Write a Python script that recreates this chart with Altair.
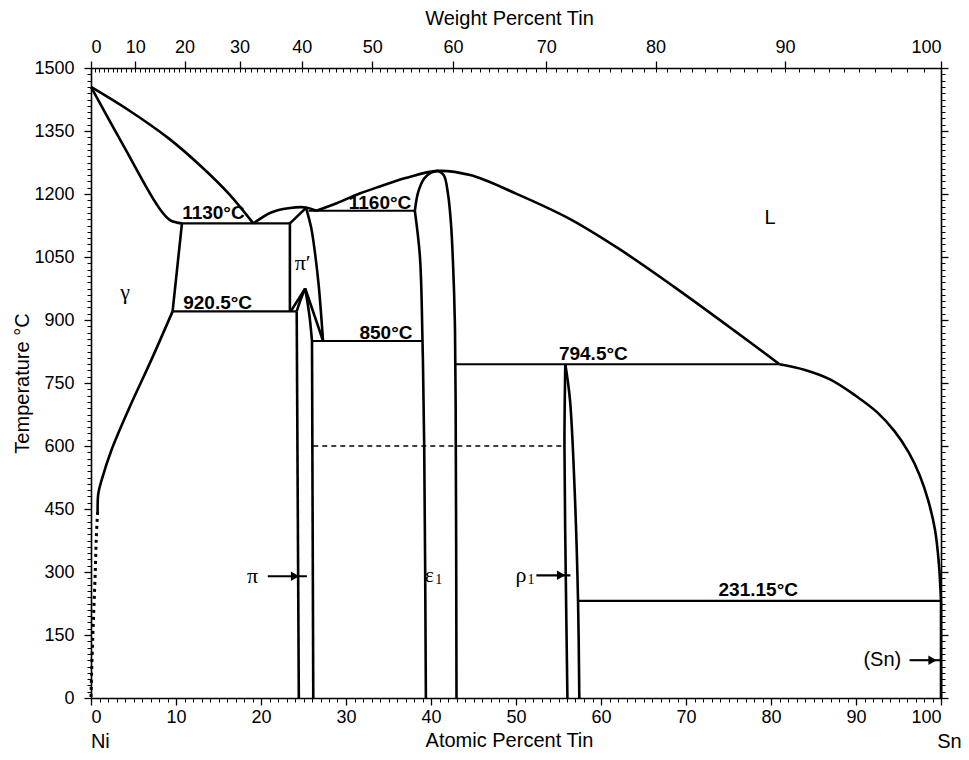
import altair as alt
import pandas as pd

# ---------------- values (x = atomic % Sn, T = deg C) ----------------
NI_LIQUIDUS = [(0, 1455), (4.4, 1400), (9.1, 1333), (13.0, 1265), (16.2, 1201), (19.1, 1130)]
NI_SOLIDUS = [(0, 1455), (3.9, 1312), (7.9, 1170), (9.3, 1138), (10.7, 1130)]
GAMMA_SOLVUS = [(9.6, 920.5), (7.1, 805), (4.4, 686), (2.4, 590), (1.25, 519), (0.86, 487), (0.78, 443)]
GAMMA_SOLVUS_DOTTED = [(0.78, 443), (0.62, 380), (0.5, 300), (0.35, 220), (0.2, 140), (0.07, 60), (0, 0)]
PI_P_LIQUIDUS = [(19.1, 1130), (21.2, 1156), (23.2, 1166), (25.3, 1168), (26.5, 1160)]
BIG_LIQUIDUS = [(26.5, 1160), (28.9, 1178), (31.6, 1201), (34.0, 1218), (37.0, 1238), (40.8, 1255),
                (44.6, 1245), (50.0, 1201), (56.2, 1142), (62.0, 1071), (68.6, 979), (75.6, 876), (81.0, 794.5)]
SN_LIQUIDUS = [(81.0, 794.5), (84.0, 781), (87.0, 758), (90.0, 719), (92.5, 680), (94.5, 636),
               (96.2, 585), (97.5, 530), (98.5, 470), (99.3, 400), (99.75, 320), (100, 231.15)]
PI_P_RIGHT = [(25.3, 1167), (25.9, 1120), (26.35, 1060), (26.8, 980), (27.3, 850)]
PI_P_INNER_R = [(25.2, 975), (26.3, 910), (27.3, 850)]
PI_TOP_L = [(25.2, 975), (24.6, 945), (24.2, 920.5)]
PI_TOP_R = [(25.2, 975), (25.7, 910), (26.0, 850)]
EPS_TOP_L = [(38.1, 1160), (38.5, 1205), (39.2, 1237), (40.0, 1251), (40.8, 1255)]
EPS_RIGHT = [(40.8, 1255), (41.5, 1245), (42.0, 1200), (42.35, 1130), (42.6, 1030), (42.8, 900), (42.9, 700), (43.0, 0)]
EPS_LEFT = [(38.1, 1160), (38.7, 1050), (39.0, 850), (39.2, 600), (39.4, 0)]
RHO_LEFT = [(55.8, 794.5), (55.7, 600), (55.85, 300), (56.05, 0)]
RHO_RIGHT = [(55.8, 794.5), (56.35, 710), (56.9, 495), (57.3, 231.15), (57.45, 0)]

GAMMA_SOLVUS_HI = [(10.7, 1130), (9.6, 920.5)]
PI_P_SOLIDUS_L = [(23.4, 1130), (25.3, 1167)]
PI_P_SOLVUS_L = [(23.4, 1130), (23.4, 920.5)]
PI_P_INNER_L = [(23.5, 920.5), (25.2, 975)]
PI_LEFT = [(24.2, 920.5), (24.45, 0)]
PI_RIGHT = [(26.0, 850), (26.15, 0)]
ISO_1130 = [(10.7, 1130), (23.4, 1130)]
ISO_1160 = [(25.6, 1160), (38.1, 1160)]
ISO_920 = [(9.6, 920.5), (24.2, 920.5)]
ISO_850 = [(26.0, 850), (39.0, 850)]
ISO_794 = [(42.85, 794.5), (81.0, 794.5)]
ISO_231 = [(57.3, 231.15), (100, 231.15)]
SN_SOLID = [(100, 0), (100, 231.15)]
PI_ARROW = [(20.8, 290), (25.4, 290)]
RHO_ARROW = [(52.4, 292), (56.4, 292)]
SN_ARROW = [(96.3, 90), (100, 90)]
DASHED_600 = [(26.15, 600), (55.7, 600)]

ARROW_HEAD_X = [24.0, 55.3, 99.0]
ARROW_HEAD_T = [290, 292, 90]

BOLD_TEXT = ["1130°C", "920.5°C", "1160°C", "850°C", "794.5°C", "231.15°C"]
BOLD_X = [14.4, 14.9, 34.0, 34.7, 59.1, 78.5]
BOLD_T = [1155, 941, 1178, 869, 819, 258]

GREEK_TEXT = ["γ", "π′", "ε", "ρ", "π"]
GREEK_X = [4.0, 24.9, 39.8, 50.6, 19.0]
GREEK_T = [967, 1036, 292, 292, 290]

SUB_TEXT = ["1", "1"]
SUB_X = [40.9, 51.75]
SUB_T = [280, 280]

SANS_TEXT = ["L", "(Sn)", "Ni", "Sn"]
SANS_X = [79.9, 93.1, 1.1, 101.0]
SANS_T = [1143, 90, -105, -105]

AT_MAJOR = list(range(0, 101, 10))
AT_MINOR = list(range(0, 101, 1))
T_MAJOR = list(range(0, 1501, 150))
T_MINOR = list(range(0, 1501, 15))
WT_LABELS = ["0", "10", "20", "30", "40", "50", "60", "70", "80", "90", "100"]
WT_AT_POS = [0, 5.21, 11.0, 17.48, 24.79, 33.08, 42.58, 53.57, 66.42, 81.65, 100]

M_NI, M_SN = 58.69, 118.71


def wt_to_at(w):
    a = w / M_SN
    b = (100 - w) / M_NI
    return 100 * a / (a + b)


WT_MINOR = [round(wt_to_at(w), 3) for w in range(0, 101)]


def frame(groups):
    rows = []
    for name, pts in groups.items():
        for i, (x, t) in enumerate(pts):
            rows.append({"seg": name, "ord": i, "x": x, "T": t})
    return pd.DataFrame(rows)


curves_df = frame({
    "ni_liq": NI_LIQUIDUS, "ni_sol": NI_SOLIDUS, "g_solv": GAMMA_SOLVUS, "pp_liq": PI_P_LIQUIDUS,
    "big_liq": BIG_LIQUIDUS, "sn_liq": SN_LIQUIDUS, "pp_r": PI_P_RIGHT, "pp_ir": PI_P_INNER_R,
    "pi_tl": PI_TOP_L, "pi_tr": PI_TOP_R, "eps_tl": EPS_TOP_L, "eps_r": EPS_RIGHT, "eps_l": EPS_LEFT,
    "rho_l": RHO_LEFT, "rho_r": RHO_RIGHT,
})
straight_df = frame({
    "g_hi": GAMMA_SOLVUS_HI, "pp_sl": PI_P_SOLIDUS_L, "pp_vl": PI_P_SOLVUS_L, "pp_il": PI_P_INNER_L,
    "pi_l": PI_LEFT, "pi_r": PI_RIGHT, "sn": SN_SOLID,
})
iso_df = frame({
    "i1130": ISO_1130, "i1160": ISO_1160, "i920": ISO_920, "i850": ISO_850, "i794": ISO_794,
    "i231": ISO_231, "a1": PI_ARROW, "a2": RHO_ARROW, "a3": SN_ARROW,
})
dashed_df = frame({"d600": DASHED_600})
dotted_df = frame({"dot": GAMMA_SOLVUS_DOTTED})
heads_df = pd.DataFrame({"x": ARROW_HEAD_X, "T": ARROW_HEAD_T})
bold_df = pd.DataFrame({"x": BOLD_X, "T": BOLD_T, "txt": BOLD_TEXT})
greek_df = pd.DataFrame({"x": GREEK_X, "T": GREEK_T, "txt": GREEK_TEXT})
sub_df = pd.DataFrame({"x": SUB_X, "T": SUB_T, "txt": SUB_TEXT})
sans_df = pd.DataFrame({"x": SANS_X, "T": SANS_T, "txt": SANS_TEXT})
dummy = pd.DataFrame({"x": [0], "T": [0]})

XS = alt.Scale(domain=[0, 100], nice=False, zero=False)
YS = alt.Scale(domain=[0, 1500], nice=False, zero=False)
SANS = "Liberation Sans"
SERIF = "Liberation Serif"


def X(axis=None):
    return alt.X("x:Q", scale=XS, axis=axis)


def Y(axis=None):
    return alt.Y("T:Q", scale=YS, axis=axis)


def lines(df, **kw):
    return alt.Chart(df).mark_line(color="black", **kw).encode(
        x=X(), y=Y(), detail="seg:N", order="ord:Q")


def texts(df, **kw):
    return alt.Chart(df).mark_text(baseline="middle", color="black", **kw).encode(
        x=X(), y=Y(), text="txt:N")


curves = lines(curves_df, interpolate="catmull-rom", strokeWidth=2.6)
straight = lines(straight_df, strokeWidth=2.6)
isos = lines(iso_df, strokeWidth=2.1)
dashed = lines(dashed_df, strokeWidth=1.7, strokeDash=[5, 4])
dotted = lines(dotted_df, interpolate="catmull-rom", strokeWidth=3, strokeDash=[3, 4])
heads = alt.Chart(heads_df).mark_point(shape="triangle-right", filled=True, size=90, color="black",
                                       opacity=1).encode(x=X(), y=Y())

bold = texts(bold_df, font=SANS, fontWeight="bold", fontSize=19)
greek = texts(greek_df, font=SERIF, fontSize=22)
subs = texts(sub_df, font=SERIF, fontSize=14)
sans = texts(sans_df, font=SANS, fontSize=20)

common = dict(domainColor="black", tickColor="black", labelColor="black", titleColor="black",
              grid=False, labelFont=SANS, titleFont=SANS, labelFontSize=18, titleFontSize=20,
              titleFontWeight="normal")


def axis_layer(xaxis=None, yaxis=None):
    return alt.Chart(dummy).mark_point(opacity=0).encode(x=X(xaxis), y=Y(yaxis))


ax_bottom = axis_layer(xaxis=alt.Axis(orient="bottom", values=AT_MAJOR, tickSize=7, tickWidth=1.3,
                                      domainWidth=1.6, labelPadding=3, title="Atomic Percent Tin",
                                      titleX=418, titleY=42, titleBaseline="middle", titleAlign="center",
                                      **common))
ax_bottom_minor = axis_layer(xaxis=alt.Axis(orient="bottom", values=AT_MINOR, tickSize=4, tickWidth=1,
                                            labels=False, domain=False, title=None, grid=False,
                                            tickColor="black"))
ax_top = axis_layer(xaxis=alt.Axis(orient="top", values=WT_AT_POS, tickSize=7, tickWidth=1.3,
                                   domainWidth=1.6, labelPadding=5, title="Weight Percent Tin",
                                   titleX=418, titleY=-50, titleBaseline="middle", titleAlign="center",
                                   labelExpr="%s[indexof(%s, datum.value)]" % (WT_LABELS, WT_AT_POS),
                                   **common))
ax_top_minor = axis_layer(xaxis=alt.Axis(orient="top", values=WT_MINOR, tickSize=4, tickWidth=1,
                                         offset=-4, labels=False, domain=False, title=None, grid=False,
                                         tickColor="black"))
ax_left = axis_layer(yaxis=alt.Axis(orient="left", values=T_MAJOR, tickSize=7, tickWidth=1.3,
                                    domainWidth=1.6, labelPadding=10, format="d", title="Temperature °C",
                                    titleX=-69, titleY=315, titleBaseline="middle", titleAlign="center",
                                    titleAngle=270, **common))
ax_left_minor = axis_layer(yaxis=alt.Axis(orient="left", values=T_MINOR, tickSize=4, tickWidth=1,
                                          labels=False, domain=False, title=None, grid=False,
                                          tickColor="black"))
ax_right = axis_layer(yaxis=alt.Axis(orient="right", values=T_MAJOR, tickSize=7, tickWidth=1.3,
                                     domainWidth=1.6, labels=False, title=None, grid=False,
                                     domainColor="black", tickColor="black"))
ax_right_minor = axis_layer(yaxis=alt.Axis(orient="right", values=T_MINOR, tickSize=4, tickWidth=1,
                                           labels=False, domain=False, title=None, grid=False,
                                           tickColor="black"))

chart = alt.layer(
    ax_bottom, ax_bottom_minor, ax_top, ax_top_minor, ax_left, ax_left_minor, ax_right, ax_right_minor,
    curves, straight, isos, dashed, dotted, heads, bold, greek, subs, sans,
).resolve_axis(x="independent", y="independent").properties(
    width=850, height=630,
    padding={"left": 83, "top": 60, "right": 20, "bottom": 54},
    autosize=alt.AutoSizeParams(type="none"),
).configure_view(stroke=None).configure(background="white")

chart.save("out.html", embed_options={"renderer": "svg", "actions": False})
